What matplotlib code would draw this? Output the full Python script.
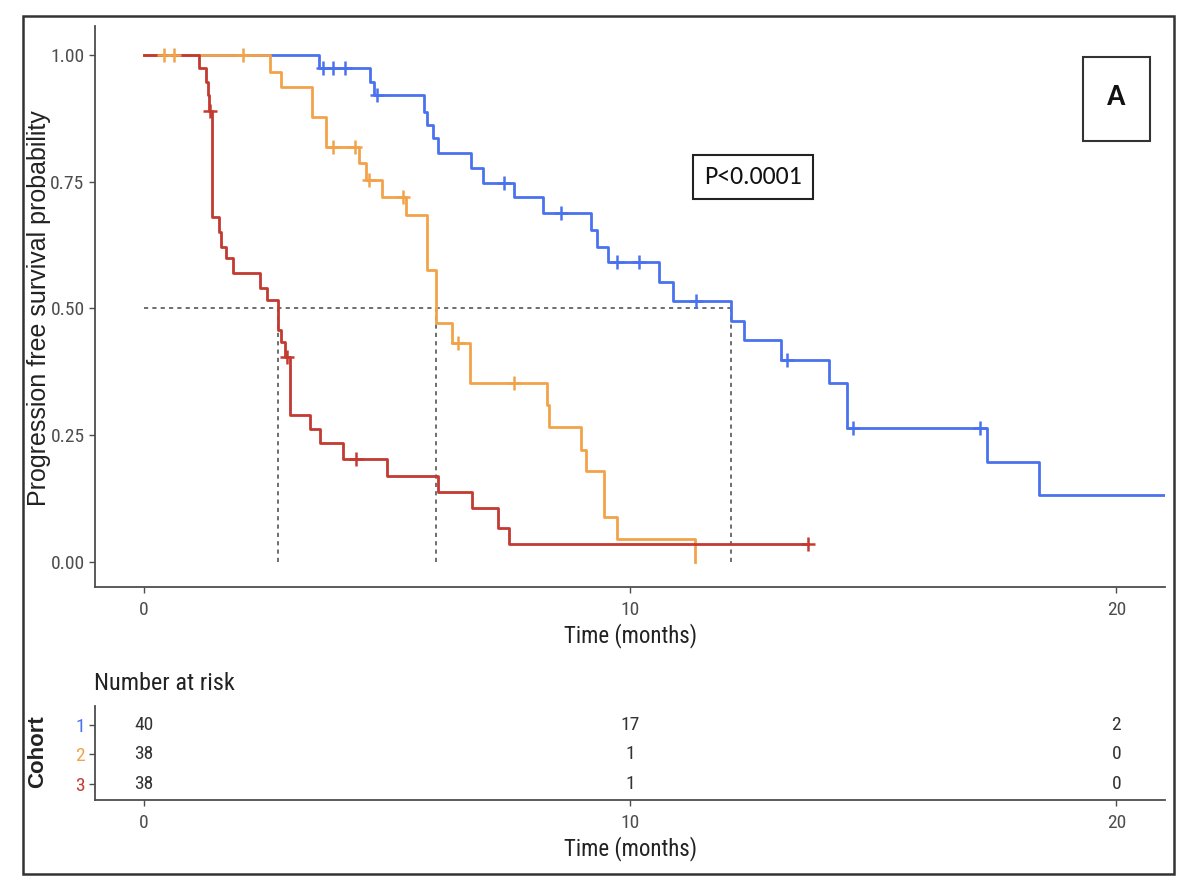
import numpy as np
import matplotlib
matplotlib.use("Agg")
import matplotlib.pyplot as plt
from matplotlib import font_manager
from matplotlib.patches import Rectangle

# ---------------- data ----------------
cohorts = ["1", "2", "3"]
colors = ["#4a72ee", "#f2a34a", "#c23a31"]

# cohort 1 (blue): step times and survival after each step
blue_t = [0, 3.61, 4.66, 4.74, 5.77, 5.82, 5.95, 6.06, 6.74, 6.97, 7.62, 8.21,
          9.20, 9.32, 9.55, 10.60, 10.88, 12.07, 12.34, 13.10, 14.10, 14.47,
          17.35, 18.40]
blue_s = [1.0, 0.974, 0.947, 0.921, 0.888, 0.862, 0.836, 0.807, 0.777, 0.748,
          0.720, 0.688, 0.655, 0.621, 0.592, 0.552, 0.515, 0.475, 0.438, 0.398,
          0.353, 0.264, 0.197, 0.132]
blue_end = 21.0
blue_cens = [3.68, 3.90, 4.13, 4.80, 7.40, 8.58, 9.73, 10.19, 11.36, 13.22,
             14.58, 17.19]

# cohort 2 (orange)
orange_t = [0, 2.59, 2.83, 3.47, 3.74, 4.42, 4.58, 4.90, 5.40, 5.83, 6.02,
            6.34, 6.71, 8.30, 8.34, 9.00, 9.10, 9.47, 9.74, 11.33]
orange_s = [1.0, 0.966, 0.937, 0.878, 0.819, 0.787, 0.753, 0.720, 0.684,
            0.576, 0.471, 0.432, 0.353, 0.310, 0.266, 0.221, 0.178, 0.089,
            0.045, 0.0]
orange_end = 11.33
orange_cens = [0.41, 0.62, 2.05, 3.90, 4.35, 4.63, 5.33, 6.47, 7.62]

# cohort 3 (red)
red_t = [0, 1.13, 1.28, 1.32, 1.34, 1.40, 1.54, 1.60, 1.70, 1.83, 2.40, 2.54,
         2.77, 2.83, 2.90, 3.00, 3.43, 3.63, 4.10, 5.00, 6.06, 6.75, 7.29,
         7.52]
red_s = [1.0, 0.974, 0.947, 0.920, 0.890, 0.680, 0.650, 0.620, 0.600, 0.570,
         0.540, 0.517, 0.458, 0.434, 0.404, 0.290, 0.262, 0.235, 0.203, 0.170,
         0.138, 0.105, 0.067, 0.034]
red_end = 13.65
red_cens = [1.36, 2.95, 4.37, 13.65]

risk_times = [0, 10, 20]
risk_counts = [[40, 17, 2], [38, 1, 0], [38, 1, 0]]

yticks = [0.0, 0.25, 0.50, 0.75, 1.00]
xticks = [0, 10, 20]


def pick(cands):
    names = {f.name for f in font_manager.fontManager.ttflist}
    for c in cands:
        if c in names:
            return c
    return "DejaVu Sans"


NARROW = pick(["Liberation Sans Narrow", "Arial Narrow", "Roboto Condensed",
               "DejaVu Sans Condensed", "Liberation Sans"])
SANS = pick(["Liberation Sans", "Arial", "DejaVu Sans"])
CAL = pick(["Carlito", "Open Sans", "Lato"])

plt.rcParams["font.family"] = [NARROW, "DejaVu Sans"]

W, H = 1200, 890
fig = plt.figure(figsize=(12, 8.9), dpi=100)

# outer frame
fig.add_artist(Rectangle((23 / W, 1 - 874 / H), (1174 - 23) / W, (874 - 16) / H,
                         transform=fig.transFigure, fill=False,
                         lw=1.8, ec="#333333"))

ax = fig.add_axes([95 / W, 1 - 587 / H, (1165 - 95) / W, (587 - 26) / H])
tab = fig.add_axes([95 / W, 1 - 800 / H, (1165 - 95) / W, (800 - 706) / H])

spine_c = "#4d4d4d"
for a in (ax, tab):
    for s in ("top", "right"):
        a.spines[s].set_visible(False)
    for s in ("left", "bottom"):
        a.spines[s].set_color(spine_c)
        a.spines[s].set_linewidth(1.3)
    a.tick_params(colors=spine_c, length=4, width=1.0, labelsize=14,
                  labelcolor="#4d4d4d")
    a.set_xlim(-1, 21)
    a.set_xticks(xticks)

ax.set_ylim(-0.05, 1.057)
ax.set_yticks(yticks)
ax.set_yticklabels([f"{v:.2f}" for v in yticks])
ax.tick_params(axis="x", pad=6)

series = [(blue_t, blue_s, blue_end, blue_cens),
          (orange_t, orange_s, orange_end, orange_cens),
          (red_t, red_s, red_end, red_cens)]

# median reference lines
medians = []
for t, s, end, cens in series:
    s_arr = np.array(s)
    idx = np.argmax(s_arr <= 0.5)
    medians.append(t[idx])
ax.plot([0, max(medians)], [0.5, 0.5], color="#555555", lw=1.2,
        dashes=(2.5, 2.5), zorder=1)
for m in medians:
    ax.plot([m, m], [0, 0.5], color="#555555", lw=1.2, dashes=(2.5, 2.5),
            zorder=1)

# survival curves
for (t, s, end, cens), c in zip(series, colors):
    tt = list(t) + [end]
    ss = list(s) + [s[-1]]
    ax.step(tt, ss, where="post", color=c, lw=2.0, zorder=3)

# censor marks
for (t, s, end, cens), c in zip(series, colors):
    t_arr = np.array(t)
    s_arr = np.array(s)
    cy = [s_arr[np.searchsorted(t_arr, x, side="right") - 1] for x in cens]
    ax.plot(cens, cy, ls="none", marker="+", ms=10, mew=1.8, color=c,
            zorder=4)

ax.set_xlabel("Time (months)", fontsize=16.5, color="#222222", labelpad=3)
ax.set_ylabel("Progression free survival probability", fontsize=18,
              family=SANS, color="#222222")
ax.yaxis.set_label_coords((51 - 95) / 1070, (587 - 308) / 561)

# p-value and panel label boxes
ax.text((753 - 95) / 1070, (587 - 177) / 561, "P<0.0001",
        transform=ax.transAxes, ha="center", va="center", fontsize=18.5,
        family=CAL, color="#111111",
        bbox=dict(boxstyle="square,pad=0.42", fc="white", ec="#222222", lw=1.5))
fig.add_artist(Rectangle((1083 / W, 1 - 141 / H), 67 / W, 84 / H,
                         transform=fig.transFigure, fill=False, lw=1.5,
                         ec="#333333"))
fig.text(1116.5 / W, 1 - 97 / H, "A", ha="center", va="center",
         fontsize=22, fontweight="bold", family=CAL, color="#111111")

# risk table
tab.set_ylim(3.55, 0.37)
tab.set_yticks([1, 2, 3])
tab.set_yticklabels(cohorts)
tab.tick_params(axis="x", pad=6)
for lbl, c in zip(tab.get_yticklabels(), colors):
    lbl.set_color(c)
for i, row in enumerate(risk_counts):
    for x, n in zip(risk_times, row):
        tab.text(x, i + 1, str(n), ha="center", va="center", fontsize=14,
                 color="#333333")
tab.set_xlabel("Time (months)", fontsize=16.5, color="#222222", labelpad=3)
tab.set_ylabel("Cohort", fontsize=16, fontweight="bold", family=SANS,
               color="#222222")
tab.yaxis.set_label_coords((48 - 95) / 1070, (800 - 752) / 94)
fig.text(94 / W, 1 - 683 / H, "Number at risk", ha="left", va="center",
         fontsize=17.5, color="#222222")

fig.savefig("out.png", dpi=100, facecolor="white")
